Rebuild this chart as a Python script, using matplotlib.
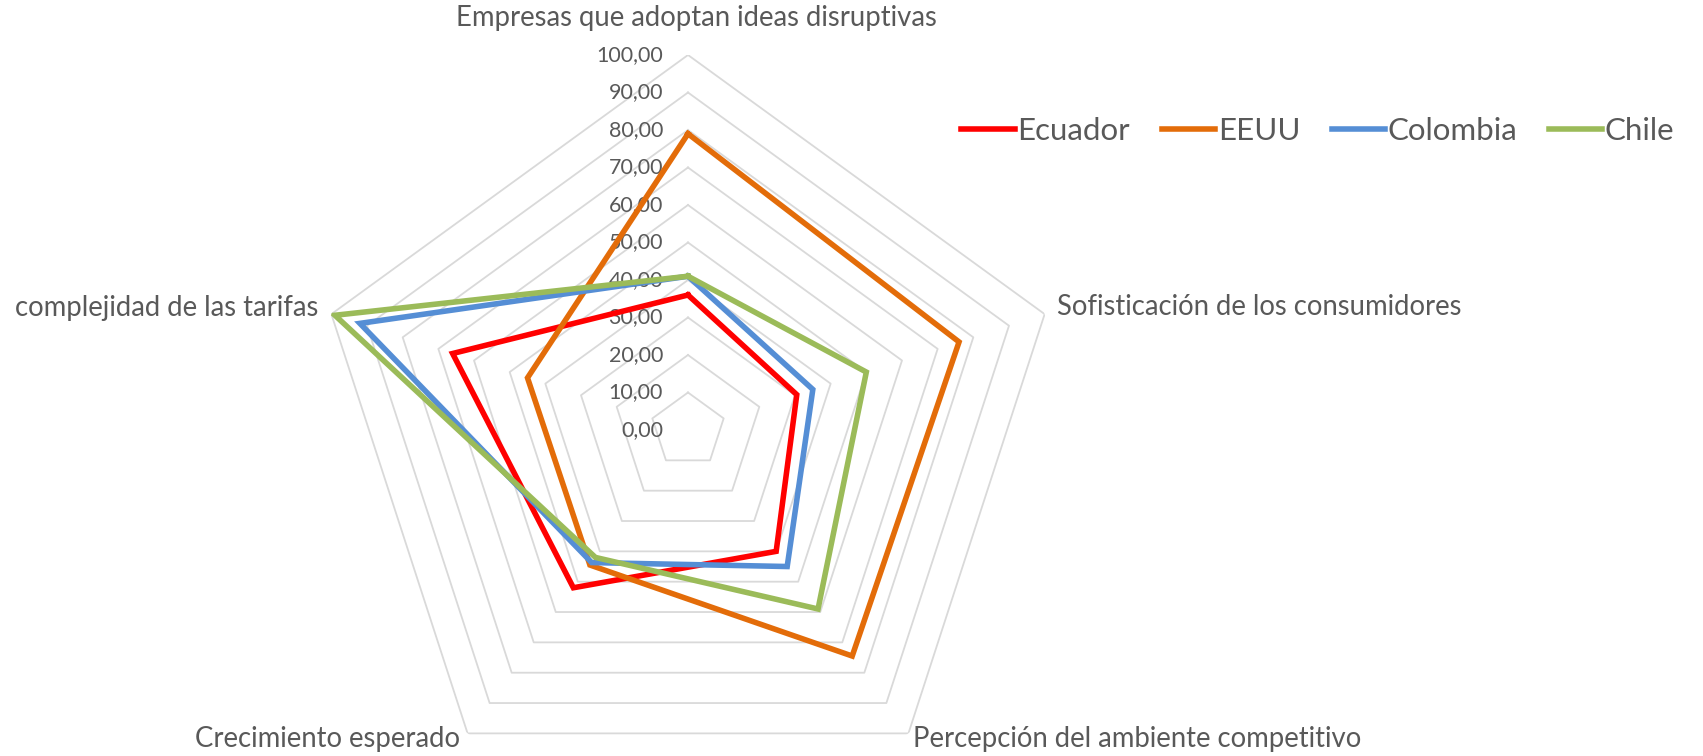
import numpy as np
import matplotlib
matplotlib.use("Agg")
import matplotlib.pyplot as plt

plt.rcParams['font.family'] = ['Lato', 'DejaVu Sans']

categories = ["Empresas que adoptan ideas disruptivas",
              "Sofisticación de los consumidores",
              "Percepción del ambiente competitivo",
              "Crecimiento esperado",
              "complejidad de las tarifas"]
ecuador = [36, 30.5, 40, 52, 66]
eeuu = [79, 76, 74.5, 44.5, 45]
colombia = [41, 35, 45, 43.7, 92]
chile = [41, 50, 59, 42, 99]
series_names = ["Ecuador", "EEUU", "Colombia", "Chile"]
tick_values = np.arange(0, 101, 10)

colors = ["#FF0000", "#E36C09", "#558ED5", "#9BBB59"]
txt = "#595959"

W, H = 1703, 756
fig = plt.figure(figsize=(W / 100, H / 100), dpi=100)
cx, cy, R = 688, 756 - 430, 375
ax = fig.add_axes([(cx - R) / W, (cy - R) / H, 2 * R / W, 2 * R / H], projection='polar')
ax.set_theta_offset(np.pi / 2)
ax.set_theta_direction(-1)
ax.set_ylim(0, 100)
ax.set_axis_off()

n = len(categories)
angles = np.linspace(0, 2 * np.pi, n, endpoint=False)
closed = np.concatenate([angles, angles[:1]])

# pentagon grid
for r in tick_values[1:]:
    ax.plot(closed, [r] * (n + 1), color="#D9D9D9", lw=1.3, zorder=1)

# tick labels
for r in tick_values:
    ax.annotate(f"{r:.2f}".replace(".", ","), xy=(0, r), xytext=(-25, 0),
                textcoords="offset pixels", ha="right", va="center",
                fontsize=15.5, color=txt)

# category labels
offsets = [((8, 24), "center", "bottom"),
           ((12, 7), "left", "center"),
           ((5, -6), "left", "center"),
           ((-8, -6), "right", "center"),
           ((-13, 6), "right", "center")]
for a, lab, (off, ha, va) in zip(angles, categories, offsets):
    ax.annotate(lab, xy=(a, 100), xytext=off, textcoords="offset pixels",
                ha=ha, va=va, fontsize=19.8, color=txt, annotation_clip=False)

for vals, name, c in zip([ecuador, eeuu, colombia, chile], series_names, colors):
    ax.plot(closed, vals + vals[:1], color=c, lw=4.0, label=name,
            solid_joinstyle="miter", zorder=3)

leg = fig.legend(loc="center", bbox_to_anchor=(1318 / W, 1 - 131 / H), ncol=4,
                 frameon=False, fontsize=22.5, handlelength=1.7, handletextpad=0.1,
                 columnspacing=1.0)
for t in leg.get_texts():
    t.set_color(txt)

fig.savefig("out.png", dpi=100)
